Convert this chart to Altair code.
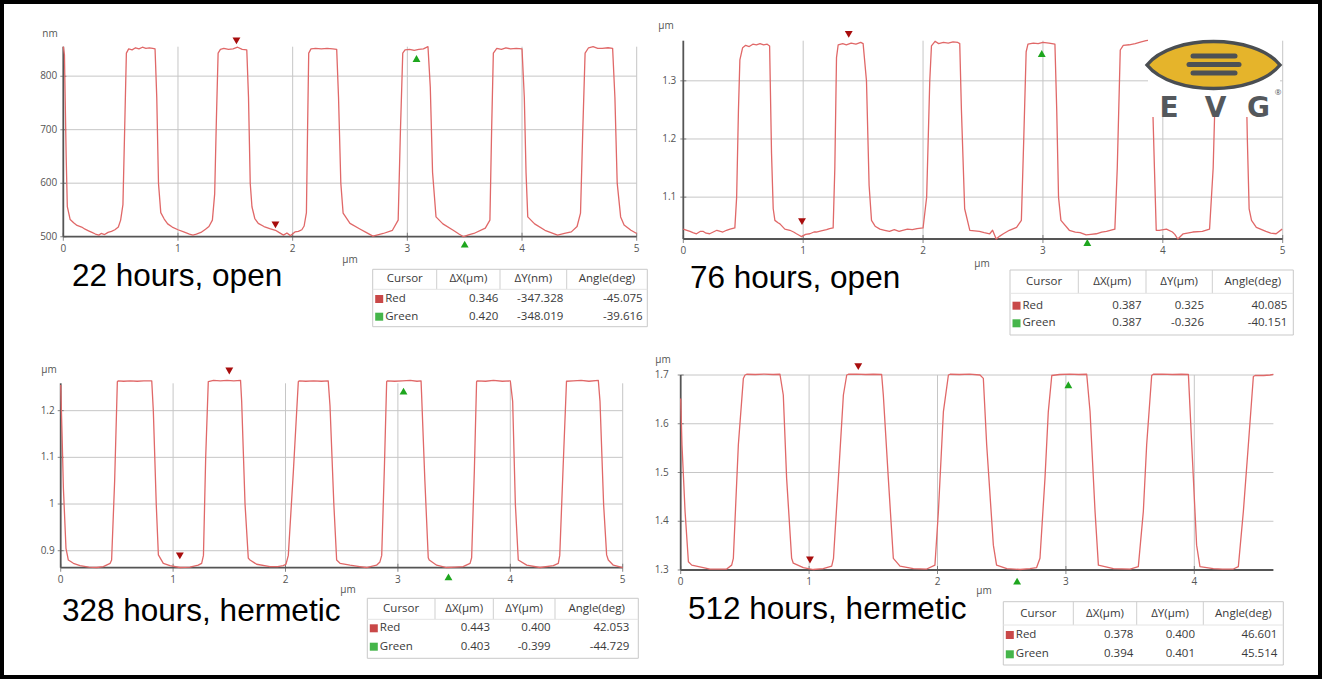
import altair as alt
import pandas as pd

# ---------------- data ----------------
# profiles: (position along scan in µm, height)
A_profile = [
    (0.00, 855), (0.01, 840), (0.025, 650), (0.035, 556), (0.06, 532), (0.09, 526),
    (0.12, 521), (0.16, 518), (0.19, 514), (0.22, 511), (0.25, 508), (0.28, 505),
    (0.31, 503), (0.33, 506), (0.36, 504), (0.39, 508), (0.42, 510), (0.45, 513),
    (0.48, 518), (0.50, 531), (0.52, 560), (0.535, 700), (0.55, 843), (0.57, 851),
    (0.60, 849), (0.63, 853), (0.66, 851), (0.69, 854), (0.72, 852), (0.75, 853),
    (0.78, 852), (0.80, 851), (0.815, 760), (0.83, 600), (0.85, 545), (0.88, 533),
    (0.91, 524), (0.95, 518), (1.00, 513), (1.05, 509), (1.10, 505), (1.13, 503),
    (1.16, 505), (1.20, 508), (1.24, 514), (1.27, 519), (1.30, 531), (1.32, 580),
    (1.335, 720), (1.35, 843), (1.37, 850), (1.40, 852), (1.44, 850), (1.48, 851),
    (1.52, 854), (1.56, 850), (1.60, 849), (1.615, 760), (1.63, 600), (1.645, 556),
    (1.67, 534), (1.70, 525), (1.75, 519), (1.80, 515), (1.85, 512), (1.88, 508),
    (1.92, 503), (1.95, 507), (1.98, 502), (2.02, 509), (2.05, 510), (2.08, 513),
    (2.10, 520), (2.12, 545), (2.13, 700), (2.14, 843), (2.16, 851), (2.20, 852),
    (2.25, 851), (2.30, 852), (2.35, 851), (2.384, 850), (2.40, 760), (2.42, 600),
    (2.44, 544), (2.50, 525), (2.59, 514), (2.64, 508), (2.70, 501), (2.75, 504),
    (2.79, 506), (2.87, 512), (2.92, 531), (2.94, 700), (2.96, 843), (2.98, 849),
    (3.02, 850), (3.06, 848), (3.10, 850), (3.14, 851), (3.18, 855), (3.20, 780),
    (3.22, 620), (3.25, 537), (3.31, 524), (3.40, 512), (3.45, 505), (3.49, 500),
    (3.54, 504), (3.58, 506), (3.68, 516), (3.72, 531), (3.735, 700), (3.75, 843),
    (3.78, 852), (3.82, 850), (3.86, 853), (3.90, 851), (3.95, 852), (4.00, 851),
    (4.02, 760), (4.035, 620), (4.05, 537), (4.11, 524), (4.20, 512), (4.31, 503),
    (4.37, 506), (4.43, 509), (4.48, 519), (4.51, 544), (4.53, 700), (4.55, 843),
    (4.58, 853), (4.62, 855), (4.66, 852), (4.70, 852), (4.75, 853), (4.79, 852),
    (4.81, 760), (4.83, 600), (4.86, 537), (4.89, 522), (4.95, 512), (5.00, 506),
]

B_profile = [
    (0.00, 1.045), (0.03, 1.043), (0.056, 1.041), (0.08, 1.039), (0.11, 1.037), (0.14, 1.041),
    (0.167, 1.041), (0.19, 1.038), (0.22, 1.037), (0.25, 1.040), (0.28, 1.043), (0.31, 1.041),
    (0.33, 1.040), (0.36, 1.043), (0.39, 1.045), (0.43, 1.047), (0.445, 1.10), (0.46, 1.25),
    (0.472, 1.336), (0.495, 1.357), (0.52, 1.361), (0.55, 1.359), (0.58, 1.363), (0.61, 1.362),
    (0.64, 1.364), (0.67, 1.362), (0.70, 1.363), (0.72, 1.360), (0.736, 1.175), (0.75, 1.08),
    (0.764, 1.060), (0.79, 1.056), (0.806, 1.054), (0.847, 1.045), (0.889, 1.043), (0.92, 1.040),
    (0.944, 1.037), (0.97, 1.034), (0.986, 1.032), (1.02, 1.036), (1.056, 1.037), (1.09, 1.040),
    (1.11, 1.040), (1.15, 1.042), (1.195, 1.044), (1.22, 1.046), (1.25, 1.047), (1.264, 1.15),
    (1.278, 1.34), (1.292, 1.362), (1.33, 1.364), (1.36, 1.362), (1.40, 1.365), (1.44, 1.363),
    (1.48, 1.366), (1.50, 1.364), (1.528, 1.30), (1.55, 1.12), (1.57, 1.060), (1.60, 1.050),
    (1.64, 1.045), (1.68, 1.043), (1.72, 1.041), (1.76, 1.044), (1.80, 1.041), (1.83, 1.043),
    (1.87, 1.045), (1.91, 1.044), (1.95, 1.046), (2.00, 1.047), (2.03, 1.10), (2.056, 1.30),
    (2.07, 1.360), (2.10, 1.368), (2.13, 1.364), (2.17, 1.366), (2.21, 1.365), (2.25, 1.367),
    (2.29, 1.366), (2.306, 1.364), (2.32, 1.25), (2.347, 1.08), (2.39, 1.043), (2.43, 1.042),
    (2.47, 1.041), (2.51, 1.039), (2.556, 1.037), (2.58, 1.043), (2.61, 1.028), (2.64, 1.033),
    (2.67, 1.037), (2.72, 1.043), (2.78, 1.048), (2.82, 1.060), (2.84, 1.20), (2.86, 1.350),
    (2.875, 1.363), (2.92, 1.365), (2.96, 1.364), (3.00, 1.366), (3.05, 1.365), (3.10, 1.363),
    (3.115, 1.25), (3.13, 1.10), (3.15, 1.060), (3.22, 1.043), (3.27, 1.040), (3.31, 1.039),
    (3.36, 1.035), (3.40, 1.036), (3.445, 1.037), (3.49, 1.040), (3.53, 1.041), (3.60, 1.045),
    (3.62, 1.15), (3.645, 1.353), (3.67, 1.361), (3.72, 1.362), (3.77, 1.364), (3.82, 1.367),
    (3.86, 1.369), (3.89, 1.370), (3.91, 1.30), (3.93, 1.15), (3.945, 1.043), (3.97, 1.043),
    (4.03, 1.045), (4.08, 1.040), (4.10, 1.036), (4.125, 1.028), (4.17, 1.037), (4.25, 1.040),
    (4.33, 1.041), (4.39, 1.045), (4.42, 1.15), (4.445, 1.34), (4.46, 1.362), (4.52, 1.364),
    (4.58, 1.363), (4.64, 1.365), (4.69, 1.360), (4.705, 1.20), (4.72, 1.08), (4.74, 1.060),
    (4.78, 1.048), (4.86, 1.041), (4.90, 1.038), (4.945, 1.037), (4.995, 1.045),
]

C_profile = [
    (0.0, 1.255), (0.012, 1.15), (0.024, 1.034), (0.047, 0.905), (0.068, 0.88), (0.113, 0.873),
    (0.172, 0.868), (0.25, 0.865), (0.32, 0.864), (0.379, 0.866), (0.44, 0.873), (0.453, 0.88),
    (0.48, 1.05), (0.504, 1.262), (0.513, 1.264), (0.56, 1.263), (0.62, 1.264), (0.68, 1.263),
    (0.74, 1.264), (0.81, 1.264), (0.824, 1.20), (0.85, 1.0), (0.869, 0.891), (0.913, 0.873),
    (0.972, 0.868), (1.061, 0.864), (1.15, 0.865), (1.224, 0.869), (1.254, 0.873), (1.27, 0.89),
    (1.29, 1.10), (1.313, 1.262), (1.36, 1.265), (1.42, 1.264), (1.48, 1.265), (1.54, 1.264),
    (1.60, 1.265), (1.61, 1.22), (1.64, 1.0), (1.669, 0.884), (1.684, 0.88), (1.743, 0.871),
    (1.862, 0.866), (1.93, 0.866), (1.98, 0.868), (2.004, 0.871), (2.025, 0.89), (2.07, 1.07),
    (2.114, 1.262), (2.123, 1.264), (2.18, 1.263), (2.25, 1.264), (2.32, 1.263), (2.38, 1.264),
    (2.396, 1.21), (2.43, 1.0), (2.455, 0.88), (2.485, 0.873), (2.574, 0.869), (2.66, 0.866),
    (2.72, 0.864), (2.81, 0.869), (2.84, 0.876), (2.856, 0.89), (2.88, 1.08), (2.90, 1.262),
    (2.906, 1.264), (2.97, 1.263), (3.04, 1.264), (3.11, 1.265), (3.17, 1.263), (3.206, 1.264),
    (3.21, 1.24), (3.24, 1.05), (3.27, 0.885), (3.279, 0.88), (3.345, 0.869), (3.434, 0.864),
    (3.51, 0.865), (3.58, 0.866), (3.642, 0.873), (3.656, 0.885), (3.68, 1.07), (3.70, 1.262),
    (3.707, 1.264), (3.78, 1.263), (3.85, 1.265), (3.93, 1.263), (4.00, 1.264), (4.021, 1.22),
    (4.045, 1.0), (4.071, 0.88), (4.146, 0.869), (4.264, 0.864), (4.383, 0.868), (4.427, 0.873),
    (4.44, 0.89), (4.47, 1.08), (4.50, 1.263), (4.56, 1.264), (4.63, 1.265), (4.70, 1.263),
    (4.783, 1.265), (4.798, 1.22), (4.83, 1.0), (4.857, 0.891), (4.872, 0.88), (4.917, 0.869),
    (5.0, 0.864),
]

D_profile = [
    (0.0, 1.652), (0.01, 1.557), (0.034, 1.42), (0.06, 1.317), (0.086, 1.31), (0.176, 1.305),
    (0.228, 1.302), (0.30, 1.302), (0.358, 1.302), (0.397, 1.31), (0.41, 1.324), (0.449, 1.557),
    (0.488, 1.693), (0.501, 1.700), (0.514, 1.7015), (0.58, 1.701), (0.65, 1.702), (0.72, 1.701),
    (0.773, 1.7015), (0.799, 1.659), (0.825, 1.488), (0.864, 1.324), (0.877, 1.314), (0.955, 1.305),
    (1.033, 1.301), (1.11, 1.303), (1.176, 1.308), (1.19, 1.324), (1.228, 1.488), (1.267, 1.659),
    (1.293, 1.700), (1.306, 1.7015), (1.37, 1.702), (1.44, 1.701), (1.50, 1.7015), (1.565, 1.701),
    (1.578, 1.659), (1.617, 1.488), (1.656, 1.324), (1.708, 1.308), (1.812, 1.303), (1.916, 1.302),
    (1.98, 1.31), (2.007, 1.42), (2.046, 1.625), (2.085, 1.700), (2.098, 1.7015), (2.17, 1.701),
    (2.25, 1.702), (2.331, 1.700), (2.357, 1.693), (2.383, 1.557), (2.435, 1.351), (2.46, 1.31),
    (2.54, 1.303), (2.643, 1.301), (2.72, 1.303), (2.772, 1.305), (2.798, 1.324), (2.837, 1.488),
    (2.863, 1.625), (2.89, 1.699), (2.95, 1.701), (3.03, 1.702), (3.10, 1.701), (3.162, 1.7015),
    (3.188, 1.625), (3.227, 1.42), (3.253, 1.31), (3.37, 1.303), (3.50, 1.302), (3.564, 1.307),
    (3.603, 1.42), (3.629, 1.557), (3.668, 1.699), (3.681, 1.7015), (3.75, 1.702), (3.83, 1.701),
    (3.90, 1.7015), (3.954, 1.701), (3.98, 1.557), (4.018, 1.351), (4.044, 1.307), (4.148, 1.303),
    (4.22, 1.302), (4.304, 1.302), (4.343, 1.307), (4.382, 1.42), (4.421, 1.557), (4.46, 1.697),
    (4.473, 1.699), (4.54, 1.699), (4.59, 1.700), (4.616, 1.7015),
]

# cursor markers (x in µm, height)
A_red = [(1.51, 866), (1.85, 522)]
A_green = [(3.08, 833), (3.50, 486)]
B_red = [(1.38, 1.380), (0.99, 1.058)]
B_green = [(2.99, 1.347), (3.37, 1.022)]
C_red = [(1.50, 1.285), (1.06, 0.889)]
C_green = [(3.05, 1.242), (3.45, 0.844)]
D_red = [(1.383, 1.717), (1.007, 1.3205)]
D_green = [(3.019, 1.680), (2.62, 1.277)]

# cursor tables
A_dx = [0.346, 0.420]; A_dy = [-347.328, -348.019]; A_ang = [-45.075, -39.616]
B_dx = [0.387, 0.387]; B_dy = [0.325, -0.326]; B_ang = [40.085, -40.151]
C_dx = [0.443, 0.403]; C_dy = [0.400, -0.399]; C_ang = [42.053, -44.729]
D_dx = [0.378, 0.394]; D_dy = [0.400, 0.401]; D_ang = [46.601, 45.514]

titles = ["22 hours, open", "76 hours, open", "328 hours, hermetic", "512 hours, hermetic"]

# axis ticks
A_xt = [0, 1, 2, 3, 4, 5]; A_yt = [500, 600, 700, 800]
B_xt = [0, 1, 2, 3, 4, 5]; B_yt = [1.1, 1.2, 1.3]
C_xt = [0, 1, 2, 3, 4, 5]; C_yt = [0.9, 1.0, 1.1, 1.2]
D_xt = [0, 1, 2, 3, 4]; D_yt = [1.3, 1.4, 1.5, 1.6, 1.7]

# ---------------- styles / layout ----------------
W, H = 1322, 679
LINE = "#e06868"
GRID = "#c6c6c6"
AXIS = "#555555"
TICKC = "#555555"
TFONT = "Open Sans"
RED_M = "#a80d0d"
GREEN_M = "#1ea61e"

one = pd.DataFrame({"k": [0]})


def text(s, x, y, size=11.5, color="#3a3a3a", align="left", font=TFONT,
         weight="normal", baseline="middle"):
    return alt.Chart(one).mark_text(
        align=align, baseline=baseline, font=font, fontSize=size,
        color=color, fontWeight=weight
    ).encode(x=alt.value(x), y=alt.value(y), text=alt.value(s))


def rect(x0, y0, x1, y1, fill, stroke=None, sw=1.0, opacity=1.0):
    kw = dict(fill=fill, fillOpacity=opacity)
    if stroke:
        kw.update(stroke=stroke, strokeWidth=sw)
    return alt.Chart(one).mark_rect(**kw).encode(
        x=alt.value(x0), x2=alt.value(x1), y=alt.value(y0), y2=alt.value(y1))


def seg(x0, y0, x1, y1, color="#c6c6c6", sw=1.0, cap="butt"):
    return alt.Chart(one).mark_rule(color=color, strokeWidth=sw, strokeCap=cap).encode(
        x=alt.value(x0), x2=alt.value(x1), y=alt.value(y0), y2=alt.value(y1))


def panel(profile, red, green, xdom, ydom, xrng, yrng, xticks, yticks, hgrid, vgrid, ylab_gap):
    sx = alt.Scale(domain=xdom, range=xrng, nice=False, zero=False)
    sy = alt.Scale(domain=ydom, range=yrng, nice=False, zero=False)

    def X(f):
        return alt.X(f, type="quantitative", scale=sx, axis=None)

    def Y(f):
        return alt.Y(f, type="quantitative", scale=sy, axis=None)

    prof = pd.DataFrame(profile, columns=["x", "y"])
    hg = pd.DataFrame({"y": hgrid, "x0": xdom[0], "x1": xdom[1]})
    vg = pd.DataFrame({"x": vgrid, "y0": ydom[0], "y1": ydom[1]})
    ax = pd.DataFrame({"x0": [xdom[0], xdom[0]], "x1": [xdom[1], xdom[0]],
                       "y0": [ydom[0], ydom[0]], "y1": [ydom[0], ydom[1]]})
    xt = pd.DataFrame({"x": xticks, "y": ydom[0]})
    yt = pd.DataFrame({"y": yticks, "x": xdom[0]})
    rd = pd.DataFrame(red, columns=["x", "y"])
    gr = pd.DataFrame(green, columns=["x", "y"])

    layers = [
        alt.Chart(hg).mark_rule(color=GRID, strokeWidth=1).encode(
            x=X("x0"), x2=alt.X2("x1"), y=Y("y")),
        alt.Chart(vg).mark_rule(color=GRID, strokeWidth=1).encode(
            x=X("x"), y=Y("y0"), y2=alt.Y2("y1")),
        alt.Chart(ax).mark_rule(color=AXIS, strokeWidth=1.8).encode(
            x=X("x0"), x2=alt.X2("x1"), y=Y("y0"), y2=alt.Y2("y1")),
        alt.Chart(xt).mark_tick(orient="vertical", size=8, thickness=1, color=AXIS).encode(
            x=X("x"), y=Y("y")),
        alt.Chart(yt).mark_tick(orient="horizontal", size=6, thickness=1, color=AXIS).encode(
            x=X("x"), y=Y("y")),
        alt.Chart(prof).mark_line(color=LINE, strokeWidth=1.3, strokeJoin="round").encode(
            x=X("x"), y=Y("y")),
        alt.Chart(xt).mark_text(align="center", baseline="middle", dy=12, fontSize=10,
                                font=TFONT, color=TICKC).encode(
            x=X("x"), y=Y("y"), text=alt.Text("x:Q", format="~g")),
        alt.Chart(yt).mark_text(align="right", baseline="middle", dx=-ylab_gap, fontSize=10,
                                font=TFONT, color=TICKC).encode(
            x=X("x"), y=Y("y"), text=alt.Text("y:Q", format="~g")),
        alt.Chart(rd).mark_point(shape="triangle-down", filled=True, size=62,
                                 color=RED_M, opacity=1).encode(x=X("x"), y=Y("y")),
        alt.Chart(gr).mark_point(shape="triangle-up", filled=True, size=62,
                                 color=GREEN_M, opacity=1).encode(x=X("x"), y=Y("y")),
    ]
    return alt.layer(*layers)


def table(T, dx_vals, dy_vals, ang_vals, unit):
    L = [rect(T["left"], T["top"], T["right"], T["bottom"], "white", stroke="#c9c9c9")]
    for s in T["seps"]:
        L.append(seg(s, T["top"], s, T["hbot"], color="#cfcfcf"))
    L.append(seg(T["left"], T["hbot"], T["right"], T["hbot"], color="#e4e4e4"))
    edges = [T["left"]] + T["seps"] + [T["right"]]
    heads = ["Cursor", "\u0394X(\u00b5m)", "\u0394Y(" + unit + ")", "Angle(deg)"]
    for i, h in enumerate(heads):
        L.append(text(h, (edges[i] + edges[i + 1]) / 2, T["hy"], align="center"))
    rows = [("Red", "#c94848", T["ry"], 0), ("Green", "#45b54a", T["gy"], 1)]
    for name, col, y, i in rows:
        L.append(rect(T["left"] + 2.5, y - 4, T["left"] + 10.5, y + 4, col))
        L.append(text(name, T["left"] + 12.5, y, align="left"))
        for v, r in zip([dx_vals[i], dy_vals[i], ang_vals[i]], T["vr"]):
            L.append(text(f"{v:.3f}", r, y, align="right"))
    return L


TA = dict(left=372.7, right=647.3, top=269.3, hbot=289.3, bottom=326.7,
          seps=[436.7, 500.0, 566.7], hy=279.3, ry=299.0, gy=316.7, vr=[498.3, 563.3, 642.7])
TB = dict(left=1010.0, right=1293.3, top=270.0, hbot=293.3, bottom=335.0,
          seps=[1078.3, 1146.0, 1212.3], hy=282.3, ry=305.7, gy=323.3, vr=[1141.7, 1204.0, 1287.3])
TC = dict(left=367.3, right=638.3, top=598.3, hbot=619.3, bottom=658.3,
          seps=[435.0, 493.3, 555.0], hy=609.3, ry=628.3, gy=646.7, vr=[490.0, 550.7, 629.3])
TD = dict(left=1003.3, right=1283.3, top=601.7, hbot=625.0, bottom=665.0,
          seps=[1073.3, 1136.7, 1203.3], hy=614.3, ry=635.0, gy=654.3, vr=[1133.3, 1195.0, 1277.3])

pA = panel(A_profile, A_red, A_green, [0, 5], [500, 855], [63.3, 636.7], [236.7, 46.7],
           A_xt, A_yt, [600, 700, 800], [1, 2, 3, 4, 5], 6)
pB = panel(B_profile, B_red, B_green, [0, 5], [1.028, 1.369], [683.3, 1282.7], [239.0, 40.7],
           B_xt, B_yt, [1.1, 1.2, 1.3], [1, 2, 3, 4, 5], 7)
pC = panel(C_profile, C_red, C_green, [0, 5], [0.8636, 1.2586], [60.7, 622.7], [567.7, 383.3],
           C_xt, C_yt, [0.9, 1.0, 1.1, 1.2], [1, 2, 3, 4, 5], 6)
pD = panel(D_profile, D_red, D_green, [0, 4.616], [1.3, 1.7], [680.7, 1273.4], [570.0, 375.0],
           D_xt, D_yt, [1.4, 1.5, 1.6, 1.7], [1, 2, 3, 4], 12)

deco = []
# unit labels
for s, x, y in [("nm", 50, 34), ("\u00b5m", 666, 26), ("\u00b5m", 49, 370), ("\u00b5m", 663, 360),
                ("\u00b5m", 350, 260), ("\u00b5m", 982, 264), ("\u00b5m", 348, 590), ("\u00b5m", 984, 591)]:
    deco.append(text(s, x, y, size=10, color=TICKC, align="center"))

# sample labels
for s, x, y in zip(titles, [72, 690, 62, 688], [286, 288, 621, 619]):
    deco.append(text(s, x, y, size=31.5, color="#000000", align="left",
                     font="Liberation Sans", baseline="alphabetic"))

# tables
deco += table(TA, A_dx, A_dy, A_ang, "nm")
deco += table(TB, B_dx, B_dy, B_ang, "\u00b5m")
deco += table(TC, C_dx, C_dy, C_ang, "\u00b5m")
deco += table(TD, D_dx, D_dy, D_ang, "\u00b5m")

# EVG logo
LENS = "M -1 0 C -0.62 -0.47 0.62 -0.47 1 0 C 0.62 0.47 -0.62 0.47 -1 0 Z"
deco.append(rect(1148, 22, 1280, 117, "white"))
deco.append(alt.Chart(one).mark_point(shape=LENS, size=133 * 133, filled=True, fill="#e5b42b",
                                      stroke="#4a4e52", strokeWidth=3.5, opacity=1).encode(
    x=alt.value(1213.5), y=alt.value(65)))
LOGO_DARK = "#4d5155"
deco.append(seg(1193, 56, 1235, 56, color=LOGO_DARK, sw=5, cap="round"))
deco.append(seg(1189, 64.5, 1239, 64.5, color=LOGO_DARK, sw=5, cap="round"))
deco.append(seg(1193, 73, 1235, 73, color=LOGO_DARK, sw=5, cap="round"))
for ch, x in [("E", 1169), ("V", 1215.5), ("G", 1258.5)]:
    deco.append(text(ch, x, 117, size=28, color="#54585c", align="center",
                     font="DejaVu Sans", weight="bold", baseline="alphabetic"))
deco.append(text("\u00ae", 1278, 93, size=8, color="#54585c", align="center"))

# outer black frame
deco.append(rect(2, 2, 1320, 677, "white", stroke="#000000", sw=4, opacity=0))

chart = alt.layer(pA, pB, pC, pD, *deco).resolve_scale(
    x="independent", y="independent"
).properties(
    width=W, height=H, autosize=alt.AutoSizeParams(type="none"), padding=0,
    background="white"
).configure_view(strokeWidth=0)

chart.save("out.html", embed_options={"renderer": "svg", "actions": False})
